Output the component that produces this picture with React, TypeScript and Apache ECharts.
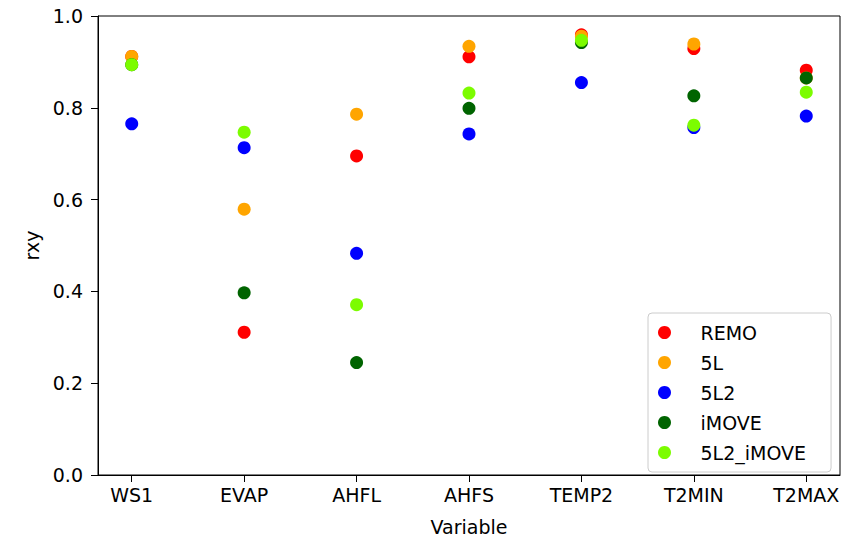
import React, { useEffect, useRef } from "react";
import * as echarts from "echarts";

const categories = ["WS1", "EVAP", "AHFL", "AHFS", "TEMP2", "T2MIN", "T2MAX"];
const seriesNames = ["REMO", "5L", "5L2", "iMOVE", "5L2_iMOVE"];
const seriesColors = ["#ff0000", "#ffa500", "#0000ff", "#006400", "#7cfc00"];
const remo = [0.912, 0.311, 0.695, 0.911, 0.959, 0.929, 0.882];
const fiveL = [0.912, 0.579, 0.786, 0.934, 0.956, 0.939, 0.865];
const fiveL2 = [0.765, 0.713, 0.483, 0.743, 0.855, 0.757, 0.782];
const imove = [0.894, 0.397, 0.245, 0.799, 0.942, 0.826, 0.865];
const fiveL2Imove = [0.894, 0.747, 0.371, 0.832, 0.947, 0.762, 0.834];
const yTicks = [0, 0.2, 0.4, 0.6, 0.8, 1.0];

const allValues = [remo, fiveL, fiveL2, imove, fiveL2Imove];
const FONT = "DejaVu Sans";

export default function App() {
  const ref = useRef<HTMLDivElement>(null);
  useEffect(() => {
    if (!ref.current) return;
    const chart = echarts.init(ref.current, null, { renderer: "svg" });
    const idx = categories.map((_, i) => i);
    chart.setOption({
      animation: false,
      backgroundColor: "#ffffff",
      textStyle: { fontFamily: FONT },
      grid: {
        left: 98,
        right: 13,
        top: 16,
        bottom: 61,
        show: true,
        borderColor: "#000",
        borderWidth: 1,
        backgroundColor: "transparent",
      },
      xAxis: {
        type: "value",
        min: -0.3,
        max: 6.3,
        name: "Variable",
        nameLocation: "middle",
        nameGap: 42,
        nameTextStyle: { fontFamily: FONT, fontSize: 19, color: "#000" },
        splitLine: { show: false },
        axisLine: { show: true, onZero: false, lineStyle: { color: "#000", width: 1 } },
        axisTick: {
          show: true,
          length: 7,
          lineStyle: { color: "#000" },
          customValues: idx,
        },
        axisLabel: {
          color: "#000",
          fontFamily: FONT,
          fontSize: 19,
          margin: 10,
          customValues: idx,
          formatter: (v: number) => categories[Math.round(v)] ?? "",
        },
      },
      yAxis: {
        type: "value",
        min: 0,
        max: 1,
        interval: 0.2,
        name: "rxy",
        nameLocation: "middle",
        nameGap: 55,
        nameRotate: 90,
        nameTextStyle: { fontFamily: FONT, fontSize: 19, color: "#000" },
        splitLine: { show: false },
        axisLine: { show: true, onZero: false, lineStyle: { color: "#000", width: 1 } },
        axisTick: { show: true, length: 7, lineStyle: { color: "#000" }, customValues: yTicks },
        axisLabel: {
          color: "#000",
          fontFamily: FONT,
          fontSize: 19,
          margin: 15,
          customValues: yTicks,
          formatter: (v: number) => v.toFixed(1),
        },
      },
      legend: {
        orient: "vertical",
        left: 648,
        top: 313,
        padding: [10, 25, 10, 10],
        itemWidth: 38,
        itemHeight: 13,
        itemGap: 11,
        icon: "circle",
        borderColor: "#cccccc",
        borderWidth: 1,
        borderRadius: 4,
        backgroundColor: "rgba(255,255,255,0.8)",
        textStyle: { fontFamily: FONT, fontSize: 19, color: "#000", padding: [0, 0, 0, 12] },
        data: seriesNames,
      },
      series: seriesNames.map((name, s) => ({
        name,
        type: "scatter",
        symbol: "circle",
        symbolSize: 13,
        itemStyle: { color: seriesColors[s], opacity: 1 },
        data: allValues[s].map((v, i) => [i, v]),
        z: 2 + s,
      })),
    });
    return () => chart.dispose();
  }, []);
  return (
    <div
      ref={ref}
      style={{ position: "fixed", left: 0, top: 0, width: 853, height: 541, background: "#fff" }}
    />
  );
}
